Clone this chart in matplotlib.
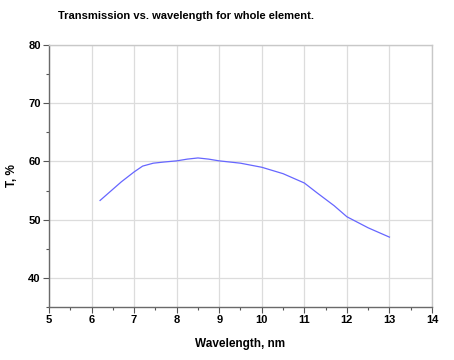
import matplotlib
matplotlib.use('Agg')
import matplotlib.pyplot as plt
from matplotlib.ticker import MultipleLocator

# wavelength (nm) and transmission (%)
wavelength = [6.2, 6.45, 6.7, 7.0, 7.2, 7.45, 7.7, 8.0, 8.25, 8.5, 8.75, 9.0,
              9.5, 10.0, 10.5, 11.0, 11.3, 11.7, 12.0, 12.5, 13.0]
transmission = [53.3, 54.9, 56.5, 58.2, 59.2, 59.7, 59.9, 60.1, 60.4, 60.6, 60.4, 60.1,
                59.7, 59.0, 57.9, 56.3, 54.6, 52.4, 50.5, 48.6, 47.0]

plt.rcParams['font.family'] = ['Liberation Sans', 'DejaVu Sans']

fig = plt.figure(figsize=(4.54, 3.6), dpi=100)
ax = fig.add_axes([49 / 454, 1 - 307 / 360, 383 / 454, 262 / 360])

ax.plot(wavelength, transmission, color='#6666ff', lw=0.9)

ax.set_xlim(5, 14)
ax.set_ylim(35, 80)
ax.xaxis.set_major_locator(MultipleLocator(1))
ax.xaxis.set_minor_locator(MultipleLocator(0.5))
ax.yaxis.set_minor_locator(MultipleLocator(5))
ax.set_yticks([40, 50, 60, 70, 80])

ax.grid(True, which='major', color='#dcdcdc', lw=0.9)
for side in ['top', 'right']:
    ax.spines[side].set_color('#c8c8c8')
    ax.spines[side].set_linewidth(1.0)
for side in ['left', 'bottom']:
    ax.spines[side].set_color('#6a6a6a')
    ax.spines[side].set_linewidth(1.0)

ax.tick_params(which='major', direction='out', length=4, width=0.8, color='#555555',
               labelsize=8, pad=2)
ax.tick_params(which='minor', direction='out', length=2, width=0.8, color='#555555')
for lbl in ax.get_xticklabels() + ax.get_yticklabels():
    lbl.set_fontweight('bold')

ax.set_xlabel('Wavelength, nm', fontsize=8.5, fontweight='bold', labelpad=9)
ax.set_ylabel('T, %', fontsize=8.5, fontweight='bold', labelpad=7)

fig.text(58 / 454, 1 - 16 / 360, 'Transmission vs. wavelength for whole element.',
         fontsize=8, fontweight='bold', ha='left', va='center')

fig.savefig('out.png', dpi=100)
